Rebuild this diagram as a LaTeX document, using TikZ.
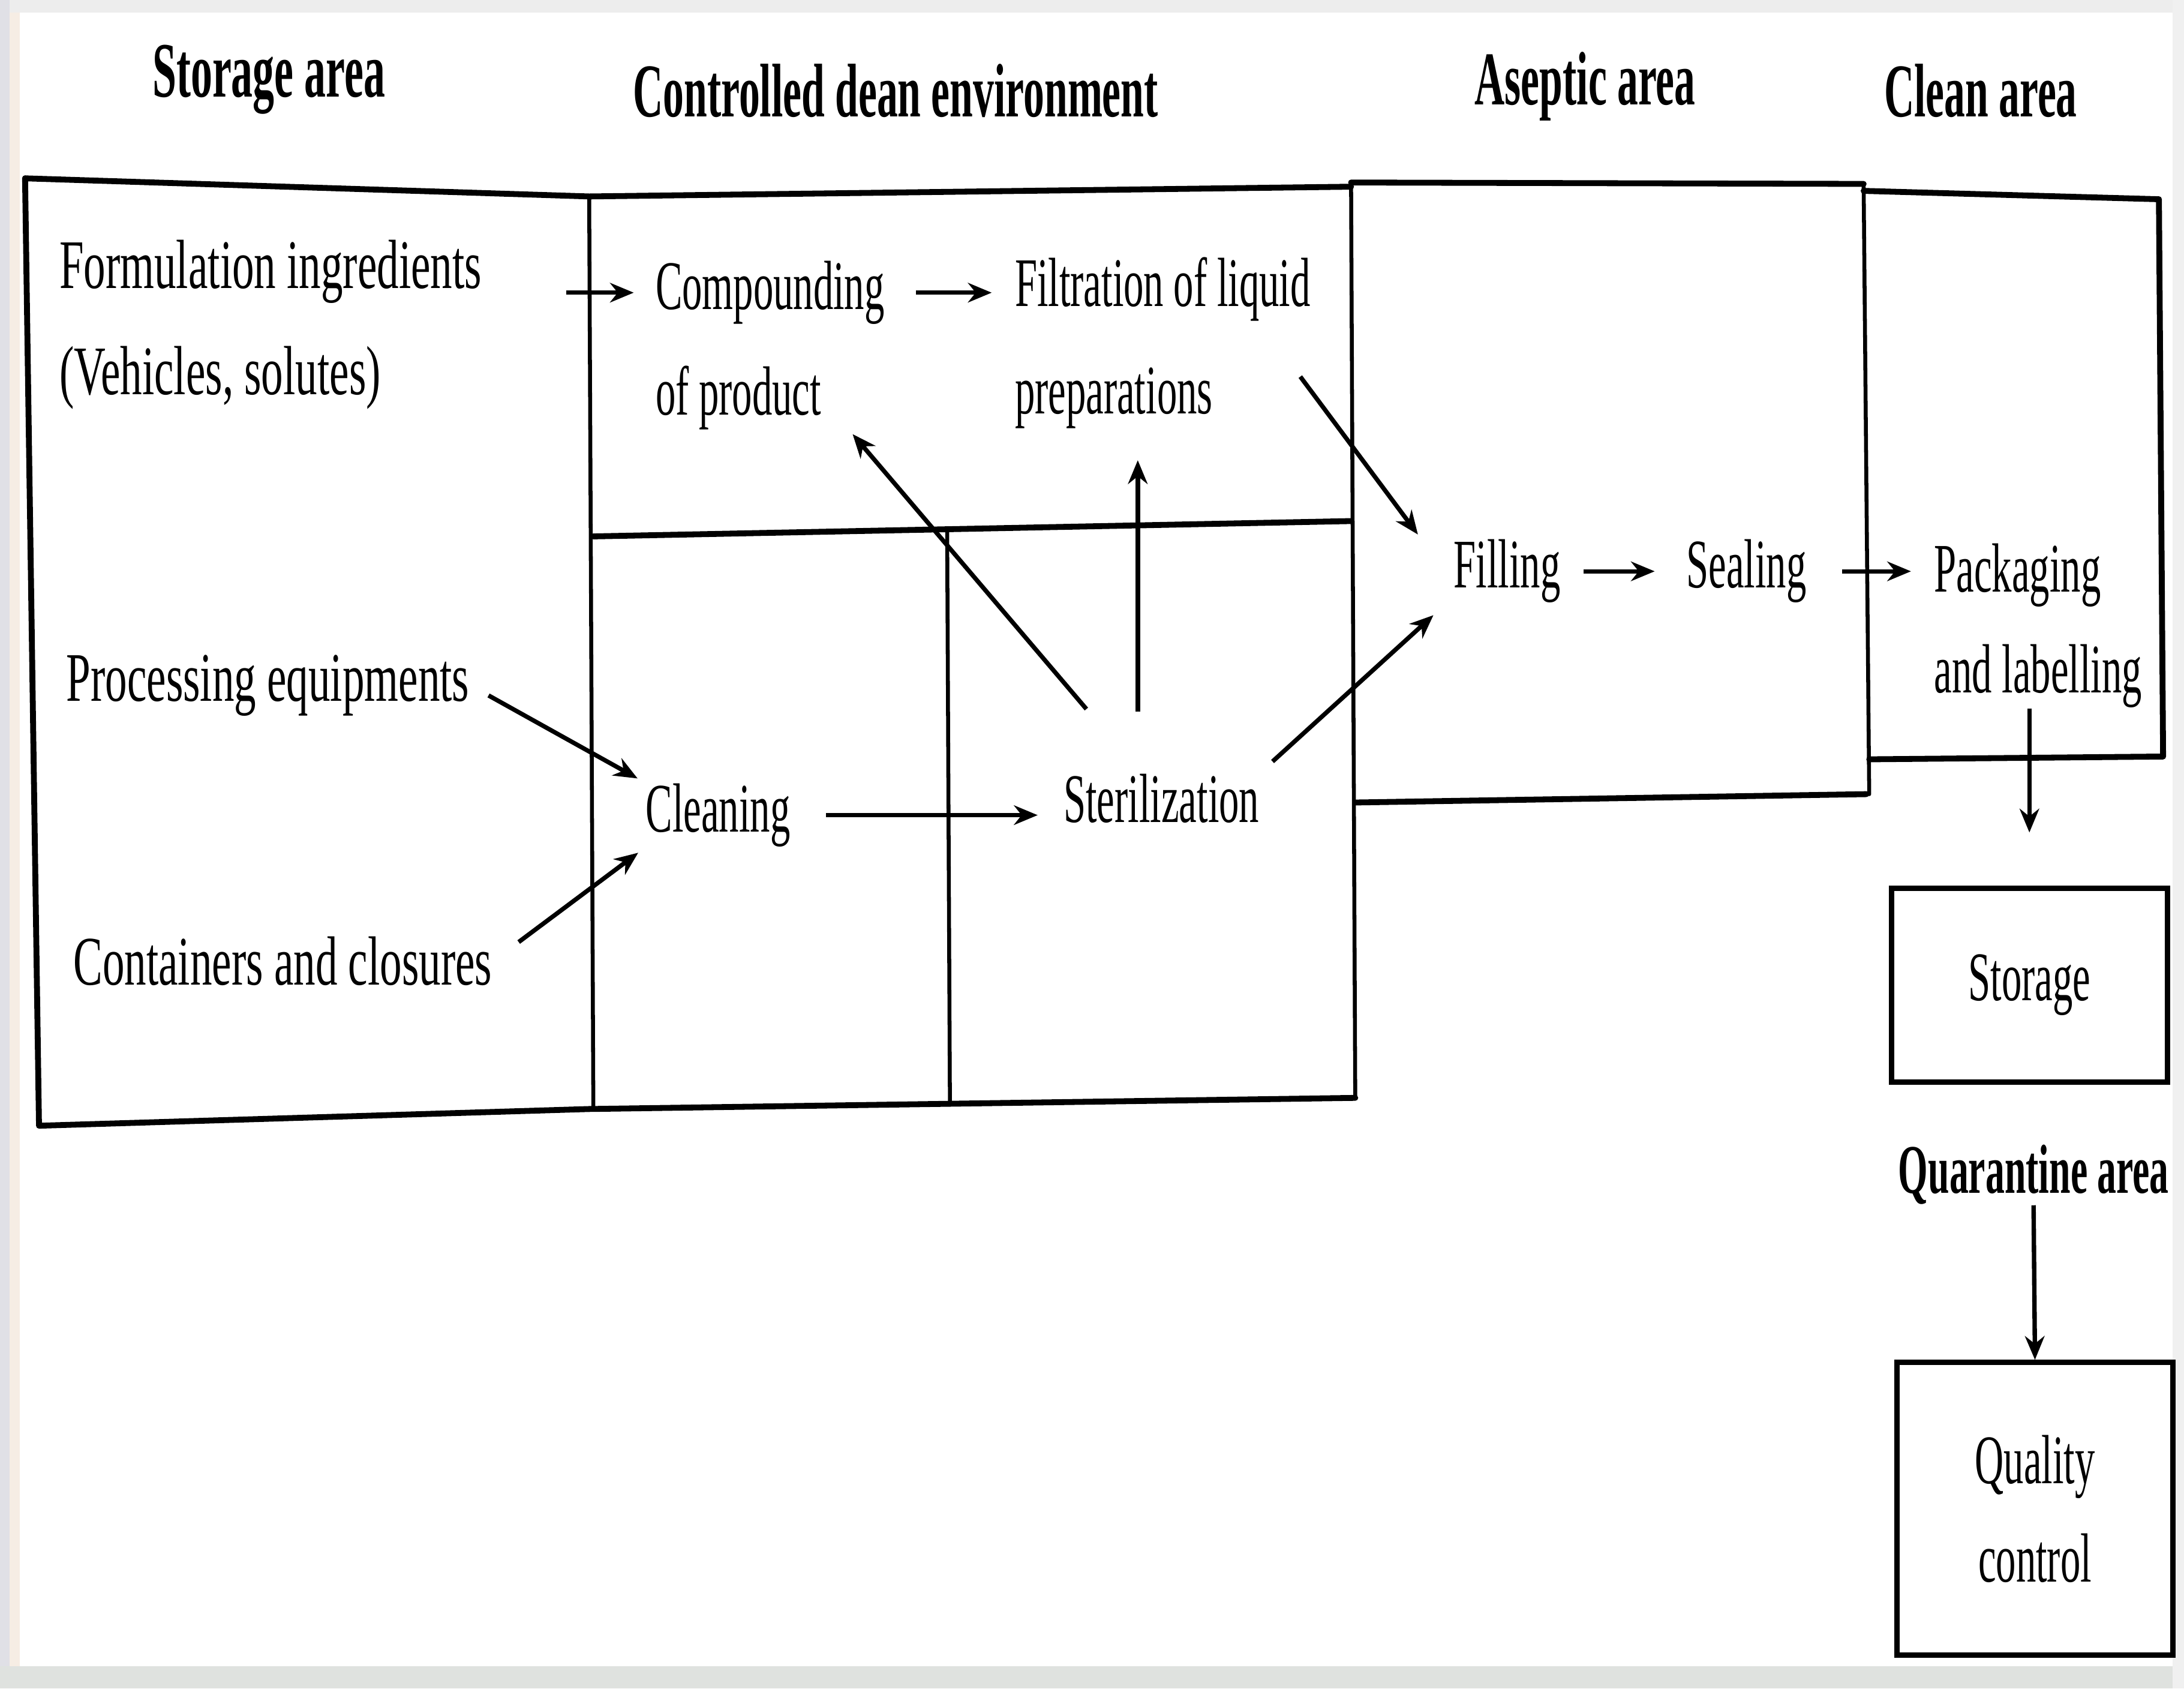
\documentclass[tikz,border=0pt]{standalone}
\usepackage{fontspec}
\setmainfont[FakeStretch=0.63]{Liberation Serif}
\newfontfamily\narrowfont[FakeStretch=0.575]{Liberation Serif}
\newfontfamily\headfont[FakeStretch=0.55]{Liberation Serif}
\usetikzlibrary{arrows.meta,calc}
\begin{document}
\begin{tikzpicture}[x=0.01cm,y=-0.01cm,
  wall/.style={line width=1.2pt, line cap=round, line join=round},
  thinwall/.style={line width=0.8pt, line cap=round},
  lbl/.style={inner sep=0pt, anchor=base west, font=\fontsize{14.2}{21}\selectfont},
  nlbl/.style={lbl, font=\narrowfont\fontsize{14.2}{21}\selectfont},
  head/.style={inner sep=0pt, font=\headfont\bfseries\fontsize{15.5}{18}\selectfont},
  roombox/.style={draw, line width=1.1pt, inner sep=0pt, align=center,
    minimum width=1.98cm, font=\narrowfont\fontsize{14.2}{20}\selectfont},
  flow/.style={line width=0.9pt, -{Stealth[length=0.17cm,width=0.14cm]}},
]
\useasboundingbox (0,0) rectangle (1568,1212);
\fill[white] (0,0) rectangle (1568,1212);

% slide frame around the figure
\fill[gray!14] (0,0) rectangle (1568,9);
\fill[blue!12!gray!22] (0,0) rectangle (7,1212);
\fill[brown!14] (7,9) rectangle (14,1196);
\fill[green!6!gray!24] (0,1196) rectangle (1568,1212);
\fill[gray!12] (1560,0) rectangle (1568,1212);

% area headings
\node[head, font=\headfont\bfseries\fontsize{16}{18}\selectfont] (hstore) at (193,57) {Storage area};
\node[head] (hctrl)  at (643,65) {Controlled dean environment};
\node[head] (hasep)  at (1138,62) {Aseptic area};
\node[head] (hclean) at (1422,65) {Clean area};

% room walls
\draw[wall] (18,128) -- (423,141) -- (970,134);
\draw[wall] (970,131) -- (1338,132);
\draw[wall] (1338,137) -- (1550,143) -- (1553,543) -- (1342,545);
\draw[wall] (18,128) -- (28,808) -- (423,796) -- (973,788);
\draw[thinwall] (423,141) -- (426,796);
\draw[wall] (426,385) -- (970,374);
\draw[thinwall] (680,380) -- (682,792);
\draw[thinwall] (970,131) -- (973,788);
\draw[wall] (973,576) -- (1340,570);
\draw[thinwall] (1338,132) -- (1342,570);

% process steps
\node[lbl]  (form1) at (42,207) {Formulation ingredients};
\node[lbl]  (form2) at (42,283) {(Vehicles, solutes)};
\node[nlbl] (comp1) at (470,222) {Compounding};
\node[nlbl] (comp2) at (470,298) {of product};
\node[nlbl] (filt1) at (728,220) {Filtration of liquid};
\node[nlbl] (filt2) at (728,297) {preparations};
\node[lbl]  (proc)  at (47,503) {Processing equipments};
\node[nlbl] (clean) at (463,597) {Cleaning};
\node[lbl]  (cont)  at (52,707) {Containers and closures};
\node[nlbl] (ster)  at (763,590) {Sterilization};
\node[nlbl] (fill)  at (1043,422) {Filling};
\node[nlbl] (seal)  at (1210,422) {Sealing};
\node[nlbl] (pack1) at (1388,425) {Packaging};
\node[nlbl] (pack2) at (1388,497) {and labelling};

\node[roombox, minimum height=1.39cm] (store) at (1457,707) {Storage};
\node[head, font=\headfont\bfseries\fontsize{14.2}{18}\selectfont] (quar) at (1460,843) {Quarantine area};
\node[roombox, minimum height=2.1cm] (qc) at (1461,1083) {Quality\\control};

% material flow
\draw[flow, shorten <=0.6cm, shorten >=0.15cm] (form1.east |- comp1.west) -- (comp1.west);
\draw[flow, shorten <=0.22cm, shorten >=0.16cm] (comp1.east) -- (comp1.east -| filt1.west);
\draw[flow] ($(filt1.south east)+(-8,39)$) -- ($(fill.north west)+(-25,-3)$);
\draw[flow, shorten <=0.15cm, shorten >=0.06cm] (proc.east) -- (clean.north west);
\draw[flow, shorten <=0.23cm, shorten >=0.06cm] (cont.east) -- (clean.south west);
\draw[flow, shorten <=0.25cm, shorten >=0.18cm] (clean.east) -- (clean.east -| ster.west);
\draw[flow, shorten <=0.6cm, shorten >=0.03cm] ($(ster.north)+(-15,0)$) -- ($(comp2.south east)+(20,0)$);
\draw[flow, shorten <=0.44cm, shorten >=0.22cm] ($(ster.north)+(-17,0)$) -- ($(ster.north |- filt2.south)+(-17,0)$);
\draw[flow, shorten <=0.12cm, shorten >=0.12cm] ($(ster.north east)+(0,0)$) -- ($(fill.south west)+(-5,0)$);
\draw[flow, shorten <=0.16cm, shorten >=0.22cm] (fill.east) -- (fill.east -| seal.west);
\draw[flow, shorten <=0.25cm, shorten >=0.16cm] (seal.east) -- (seal.east -| pack1.west);
\draw[flow, shorten >=0.38cm] (store.north |- pack2.south) -- (store.north);
\draw[flow] (quar.south) -- (qc.north);
\end{tikzpicture}
\end{document}
